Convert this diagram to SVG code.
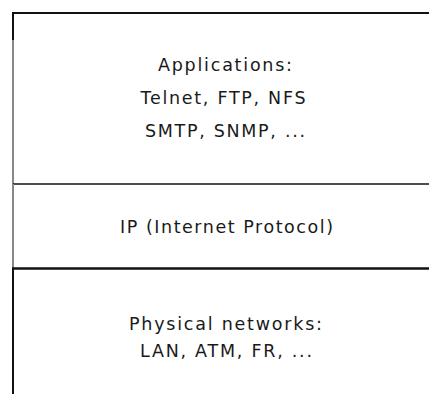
<svg xmlns="http://www.w3.org/2000/svg" width="429" height="394" viewBox="0 0 429 394">
<style>
.t{font-family:"DejaVu Sans","Liberation Sans",sans-serif;font-size:17.5px;fill:#1a1a1a;text-anchor:middle}
.ln{stroke:#111;fill:none}
</style>
<rect width="429" height="394" fill="#fff"/>
<g id="applications">
<line class="ln" x1="12" y1="13" x2="429" y2="13" stroke-width="2"/>
<line class="ln" x1="13" y1="12" x2="13" y2="40" stroke-width="2"/>
<line x1="13" y1="40" x2="13" y2="184" stroke="#888" stroke-width="2"/>
<text class="t" x="225" y="71" textLength="134" lengthAdjust="spacing">Applications:</text>
<text class="t" x="223" y="104" textLength="165" lengthAdjust="spacing">Telnet, FTP, NFS</text>
<text class="t" x="225" y="137" textLength="160" lengthAdjust="spacing">SMTP, SNMP, ...</text>
</g>
<g id="ip">
<line class="ln" x1="13" y1="184" x2="429" y2="184" stroke-width="1.6"/>
<line x1="13" y1="184" x2="13" y2="268" stroke="#888" stroke-width="2"/>
<text class="t" x="226.5" y="233" textLength="213" lengthAdjust="spacing">IP (Internet Protocol)</text>
</g>
<g id="physical">
<line class="ln" x1="12" y1="268.5" x2="429" y2="268.5" stroke-width="2.5"/>
<line class="ln" x1="13" y1="268" x2="13" y2="394" stroke-width="2"/>
<text class="t" x="225.5" y="330" textLength="193" lengthAdjust="spacing">Physical networks:</text>
<text class="t" x="226" y="356.5" textLength="172" lengthAdjust="spacing">LAN, ATM, FR, ...</text>
</g>
<g id="connectors"></g>
</svg>
